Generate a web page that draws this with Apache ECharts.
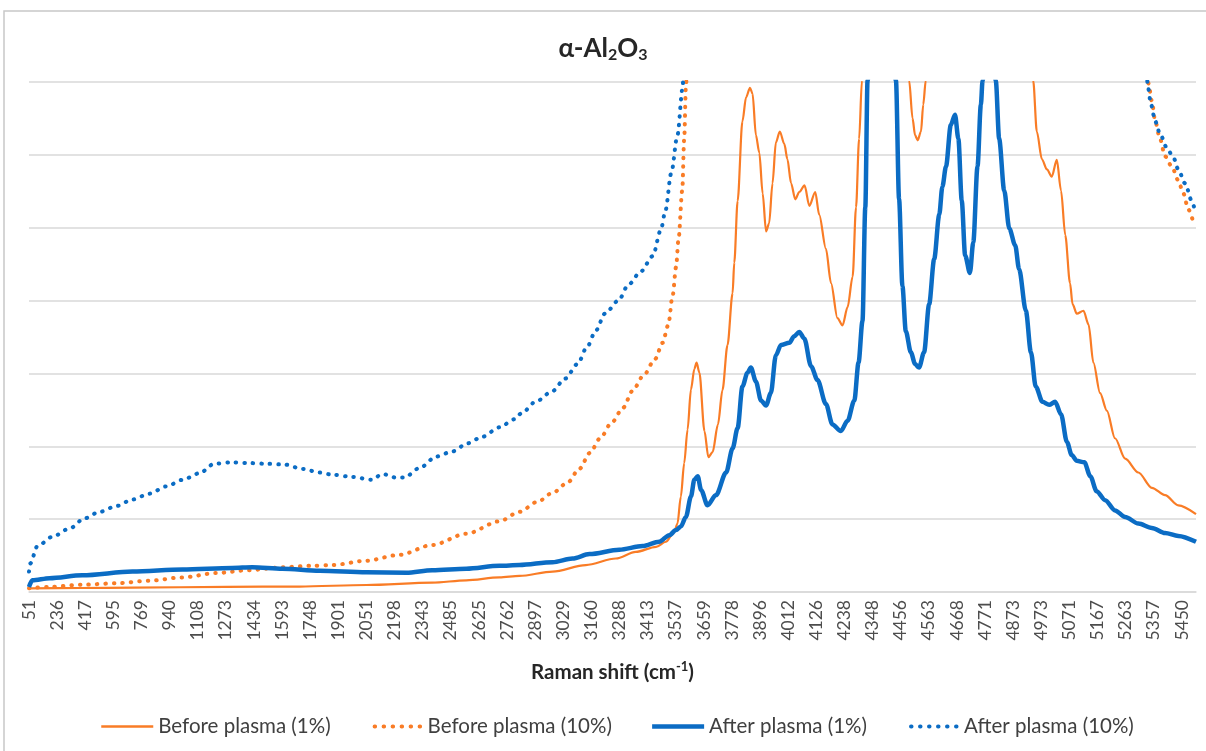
<!DOCTYPE html>
<html>
<head>
<meta charset="utf-8">
<title>alpha-Al2O3 Raman</title>
<script src="https://cdn.jsdelivr.net/npm/echarts@6/dist/echarts.min.js"></script>
<style>
  html, body { margin: 0; padding: 0; background: #fff; }
  #chart { width: 1206px; height: 751px; }
</style>
</head>
<body>
<div id="chart"></div>
<script>
// tick labels of the category axis (Raman shift, cm-1), one per unit of position
const ramanTicks = [51, 236, 417, 595, 769, 940, 1108, 1273, 1434, 1593, 1748, 1901, 2051, 2198,
  2343, 2485, 2625, 2762, 2897, 3029, 3160, 3288, 3413, 3537, 3659, 3778, 3896, 4012, 4126,
  4238, 4348, 4456, 4563, 4668, 4771, 4873, 4973, 5071, 5167, 5263, 5357, 5450]

// [position in tick units, intensity in gridline units]
// values above 7 run off the top of the plot (clipped)
const beforeLow = [
  [0, 0.05], [1.8, 0.055], [3.68, 0.06], [7.02, 0.07], [9.62, 0.075], [12.0, 0.096], [14.34, 0.128],
  [15.55, 0.16], [16.73, 0.2], [17.44, 0.22], [18.62, 0.28], [19.8, 0.37], [20.87, 0.46], [21.58, 0.55],
  [22.3, 0.62], [22.65, 0.69], [22.95, 0.83], [23.06, 0.94], [23.18, 1.31], [23.3, 1.77], [23.42, 2.23],
  [23.54, 2.78], [23.66, 3.06], [23.74, 3.15], [23.84, 3.01], [24.02, 2.21], [24.16, 1.85], [24.31, 1.92],
  [24.5, 2.3], [24.66, 2.77], [24.84, 3.39], [25.02, 4.1], [25.08, 4.52], [25.2, 5.37], [25.37, 6.46],
  [25.5, 6.79], [25.64, 6.92], [25.73, 6.84], [25.85, 6.27], [25.97, 6.03], [26.09, 5.47], [26.21, 4.95],
  [26.32, 5.06], [26.44, 5.61], [26.56, 6.17], [26.7, 6.32], [26.86, 6.15], [26.97, 5.94], [27.1, 5.61],
  [27.25, 5.39], [27.39, 5.49], [27.58, 5.58], [27.75, 5.3], [27.96, 5.49], [28.1, 5.18], [28.34, 4.71],
  [28.52, 4.24], [28.75, 3.76], [28.93, 3.66], [29.11, 3.91], [29.29, 4.33], [29.41, 5.28], [29.52, 6.22],
  [29.62, 7.02], [30.3, 16], [31.3, 7.02], [31.42, 6.5], [31.51, 6.27], [31.6, 6.2], [31.72, 6.32],
  [31.8, 6.69], [31.89, 7.02], [32.9, 14], [33.6, 11], [34.3, 14], [35.71, 7.02], [35.84, 6.32],
  [36.02, 5.94], [36.2, 5.8], [36.37, 5.7], [36.55, 5.93], [36.7, 5.51], [36.85, 4.9], [37.02, 4.24],
  [37.11, 3.95], [37.26, 3.82], [37.5, 3.86], [37.68, 3.67], [37.85, 3.15], [38.09, 2.73], [38.33, 2.49],
  [38.62, 2.11], [38.98, 1.83], [39.45, 1.64], [39.93, 1.43], [40.4, 1.33], [40.87, 1.19], [41.5, 1.07]
]

const beforeHigh = [
  [0, 0.05], [0.73, 0.07], [1.9, 0.1], [3.11, 0.12], [4.28, 0.155], [5.46, 0.2], [6.66, 0.26],
  [7.84, 0.3], [9.01, 0.34], [10.08, 0.36], [10.79, 0.37], [12.0, 0.43], [13.17, 0.51], [14.34, 0.645],
  [15.55, 0.8], [16.73, 0.97], [17.44, 1.1], [18.09, 1.24], [18.62, 1.36], [19.15, 1.5], [19.57, 1.69],
  [19.95, 1.91], [20.31, 2.11], [20.73, 2.33], [21.13, 2.53], [21.46, 2.76], [21.85, 2.97], [22.27, 3.2],
  [22.53, 3.42], [22.73, 3.66], [22.89, 4.07], [23.01, 4.46], [23.1, 4.85], [23.23, 5.51], [23.3, 6.22],
  [23.36, 6.93], [23.5, 9], [31, 20], [39.6, 9], [39.81, 6.98], [39.93, 6.74], [40.05, 6.46],
  [40.22, 6.22], [40.4, 5.98], [40.64, 5.84], [40.87, 5.65], [41.05, 5.47], [41.23, 5.25], [41.4, 5.08]
]

const afterLow = [
  [0, 0.07], [0.12, 0.16], [0.73, 0.19], [1.9, 0.23], [3.68, 0.28], [5.46, 0.31], [7.23, 0.33],
  [7.94, 0.34], [9.01, 0.32], [10.33, 0.29], [12.0, 0.27], [13.42, 0.265], [14.34, 0.3], [15.55, 0.32],
  [16.73, 0.36], [17.44, 0.37], [18.62, 0.41], [19.33, 0.46], [19.93, 0.52], [20.99, 0.58], [21.82, 0.63],
  [22.41, 0.69], [22.77, 0.78], [23.01, 0.85], [23.18, 0.9], [23.36, 1.03], [23.54, 1.31], [23.66, 1.54],
  [23.78, 1.59], [23.9, 1.4], [24.13, 1.19], [24.43, 1.33], [24.79, 1.64], [25.02, 1.97], [25.2, 2.25],
  [25.37, 2.82], [25.55, 3.01], [25.67, 3.08], [25.85, 2.89], [26.03, 2.63], [26.21, 2.56], [26.38, 2.73],
  [26.56, 3.25], [26.74, 3.39], [27.04, 3.42], [27.21, 3.51], [27.39, 3.57], [27.57, 3.48], [27.81, 3.1],
  [28.04, 2.91], [28.34, 2.58], [28.57, 2.3], [28.87, 2.21], [29.11, 2.35], [29.35, 2.63], [29.5, 3.15],
  [29.64, 3.72], [29.74, 5.28], [29.82, 7.02], [30.3, 14], [30.83, 7.02], [30.94, 5.4], [31.06, 4.2],
  [31.18, 3.58], [31.36, 3.29], [31.51, 3.13], [31.65, 3.08], [31.83, 3.29], [32.01, 3.95], [32.19, 4.57],
  [32.37, 5.18], [32.48, 5.56], [32.61, 5.84], [32.78, 6.41], [32.93, 6.55], [33.05, 6.22], [33.17, 5.37],
  [33.29, 4.62], [33.46, 4.38], [33.58, 4.8], [33.73, 5.84], [33.85, 6.69], [33.91, 7.02], [34.15, 9],
  [34.38, 7.02], [34.5, 6.22], [34.68, 5.51], [34.86, 4.99], [35.07, 4.76], [35.21, 4.43], [35.45, 3.86],
  [35.63, 3.29], [35.8, 2.82], [36.04, 2.61], [36.28, 2.57], [36.49, 2.61], [36.7, 2.44], [36.91, 2.06],
  [37.08, 1.88], [37.26, 1.8], [37.53, 1.78], [37.74, 1.59], [37.97, 1.38], [38.27, 1.26], [38.62, 1.12],
  [38.98, 1.03], [39.45, 0.94], [39.93, 0.88], [40.4, 0.81], [40.87, 0.77], [41.5, 0.69]
]

const afterHigh = [
  [0, 0.28], [0.04, 0.39], [0.3, 0.63], [0.84, 0.76], [1.44, 0.87], [1.97, 1.01], [2.51, 1.1],
  [3.11, 1.18], [3.68, 1.27], [4.28, 1.35], [4.89, 1.45], [5.46, 1.54], [6.06, 1.63], [6.59, 1.76],
  [7.23, 1.78], [7.84, 1.77], [8.44, 1.76], [9.08, 1.75], [9.72, 1.69], [10.33, 1.64], [10.79, 1.61],
  [11.5, 1.58], [12.18, 1.54], [12.57, 1.62], [13.06, 1.57], [13.35, 1.57], [13.88, 1.7], [14.49, 1.86],
  [15.06, 1.93], [15.59, 2.04], [16.12, 2.13], [16.73, 2.26], [17.26, 2.37], [17.5, 2.45], [18.05, 2.62],
  [18.59, 2.75], [19.07, 2.93], [19.51, 3.13], [19.84, 3.36], [20.16, 3.59], [20.48, 3.82], [20.96, 4.0],
  [21.32, 4.22], [21.76, 4.4], [22.18, 4.61], [22.47, 4.97], [22.63, 5.23], [22.84, 5.75], [23.06, 6.27],
  [23.24, 6.91], [23.4, 9], [31, 20], [39.6, 9], [39.79, 6.93], [39.9, 6.69], [40.05, 6.46],
  [40.22, 6.29], [40.46, 6.1], [40.7, 5.96], [40.87, 5.8], [41.11, 5.61], [41.35, 5.37], [41.45, 5.25]
]

const ORANGE = '#F97C26'
const BLUE = '#0B6CC4'
const FONT = 'Lato'

const chart = echarts.init(document.getElementById('chart'))

const lineSeries = (name, data, color, width, dotted) => ({
  name: name,
  type: 'line',
  data: data,
  symbol: 'none',
  showSymbol: false,
  smooth: 0.3,
  smoothMonotone: 'x',
  clip: true,
  animation: false,
  lineStyle: {
    color: color,
    width: width,
    type: dotted ? [0.5, 8] : 'solid',
    cap: dotted ? 'round' : 'butt',
    join: 'round'
  },
  itemStyle: { color: color }
})

// legend icons: dotted ones need round caps so the dots show
const dottedIcon = { cap: 'round', width: 4, type: [0.5, 8.5], dashOffset: -4 }

chart.setOption({
  backgroundColor: '#fff',
  animation: false,
  graphic: [{
    type: 'rect',
    shape: { x: 4, y: 11, width: 1240, height: 780 },
    style: { fill: 'none', stroke: '#C8C8C8', lineWidth: 1.5 },
    silent: true
  }],
  title: {
    text: '{m|α-Al}{s|2}{m|O}{s|3}',
    left: 'center',
    top: 29,
    textStyle: {
      rich: {
        m: { fontFamily: FONT, fontSize: 26, fontWeight: 'bold', color: '#262626' },
        s: { fontFamily: FONT, fontSize: 16, fontWeight: 'bold', color: '#262626', padding: [13, 0, 0, 0] }
      }
    }
  },
  grid: { left: 29, right: 10, top: 82, bottom: 159 },
  xAxis: {
    type: 'value',
    min: 0,
    max: 41.5,
    interval: 1,
    name: '{b|Raman shift (cm}{p|-1}{b|)}',
    nameLocation: 'middle',
    nameGap: 68,
    nameTextStyle: {
      rich: {
        b: { fontFamily: FONT, fontSize: 20.5, fontWeight: 'bold', color: '#262626' },
        p: { fontFamily: FONT, fontSize: 13, fontWeight: 'bold', color: '#262626', padding: [0, 0, 12, 0] }
      }
    },
    axisLine: { lineStyle: { color: '#D9D9D9', width: 1.5 } },
    axisTick: { show: false },
    splitLine: { show: false },
    axisLabel: {
      rotate: 90,
      margin: 8,
      fontFamily: FONT,
      fontSize: 17.5,
      color: '#4D4D4D',
      formatter: (v) => (Number.isInteger(v) && ramanTicks[v] !== undefined ? String(ramanTicks[v]) : '')
    }
  },
  yAxis: {
    type: 'value',
    min: 0,
    max: 7,
    interval: 1,
    axisLine: { show: false },
    axisTick: { show: false },
    axisLabel: { show: false },
    splitLine: { lineStyle: { color: '#D9D9D9', width: 1.5 } }
  },
  legend: {
    bottom: 9,
    left: 95,
    itemWidth: 52,
    itemHeight: 14,
    itemGap: 38,
    itemStyle: { opacity: 0 },
    textStyle: { fontFamily: FONT, fontSize: 20.5, color: '#404040' },
    data: [
      { name: 'Before plasma (1%)', lineStyle: { width: 2.5 } },
      { name: 'Before plasma (10%)', lineStyle: dottedIcon },
      { name: 'After plasma (1%)', lineStyle: { width: 4.5 } },
      { name: 'After plasma (10%)', lineStyle: dottedIcon }
    ]
  },
  series: [
    lineSeries('Before plasma (1%)', beforeLow, ORANGE, 2.2, false),
    lineSeries('Before plasma (10%)', beforeHigh, ORANGE, 4, true),
    lineSeries('After plasma (1%)', afterLow, BLUE, 4.5, false),
    lineSeries('After plasma (10%)', afterHigh, BLUE, 4, true)
  ]
})
</script>
</body>
</html>
